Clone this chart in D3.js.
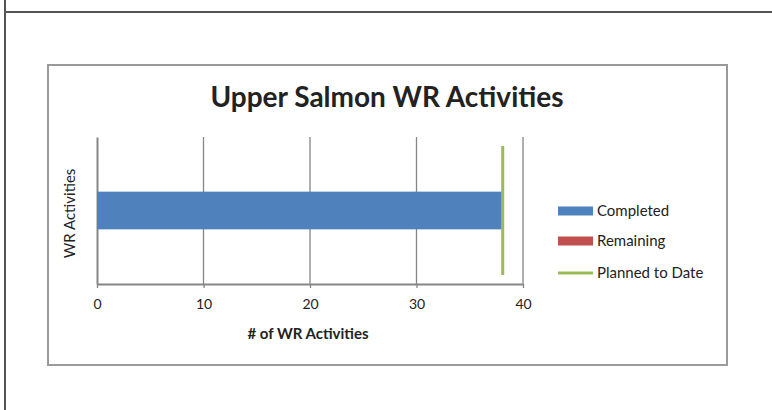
<!DOCTYPE html>
<html>
<head>
<meta charset="utf-8">
<script src="https://cdn.jsdelivr.net/npm/d3@7"></script>
<style>
  body { margin: 0; background: #fff; }
  text { font-family: Lato, "Open Sans", sans-serif; fill: #222; }
</style>
</head>
<body>
<div id="chart"></div>
<script>
// DATA
var categories = ["WR Activities"];
var completed = [38];
var remaining = [0];
var planned = [38];
var xTicks = [0, 10, 20, 30, 40];
var seriesNames = ["Completed", "Remaining", "Planned to Date"];
var seriesColors = ["#4f81bd", "#c0504d", "#9bbb59"];

var W = 772, H = 410;

// plot area inside the chart box
var plot = { left: 97, right: 523, top: 137, bottom: 284 };

var svg = d3.select('#chart').append('svg')
  .attr('width', W)
  .attr('height', H);

// outer frame (page lines)
svg.append('line').attr('x1', 5).attr('x2', 5).attr('y1', 0).attr('y2', H)
  .attr('stroke', '#555').attr('stroke-width', 2);
svg.append('line').attr('x1', 5).attr('x2', W).attr('y1', 12).attr('y2', 12)
  .attr('stroke', '#555').attr('stroke-width', 2);

// chart box
svg.append('rect')
  .attr('x', 48).attr('y', 65).attr('width', 679).attr('height', 300)
  .attr('fill', '#fff').attr('stroke', '#9a9a9a').attr('stroke-width', 2);

// SCALES
var x = d3.scaleLinear()
  .domain([0, 40])
  .range([plot.left, plot.right]);

var yBar = d3.scaleBand()
  .domain(categories)
  .range([plot.top, plot.bottom])
  .paddingInner(0)
  .paddingOuter(1.45);

var yLine = d3.scaleBand()
  .domain(categories)
  .range([plot.top, plot.bottom])
  .paddingOuter(0.07);

// GRIDLINES
svg.append('g').selectAll('line')
  .data(xTicks.slice(1))
  .enter().append('line')
    .attr('x1', function(d) { return x(d); })
    .attr('x2', function(d) { return x(d); })
    .attr('y1', plot.top)
    .attr('y2', plot.bottom)
    .attr('stroke', '#868686')
    .attr('stroke-width', 1.3);

// X AXIS
var xAxis = d3.axisBottom(x)
  .tickValues(xTicks)
  .tickSize(4)
  .tickPadding(11)
  .tickSizeOuter(0);

var gx = svg.append('g')
  .attr('transform', 'translate(0,' + plot.bottom + ')')
  .call(xAxis);
gx.select('.domain').attr('stroke', '#868686').attr('stroke-width', 2);
gx.selectAll('.tick line').attr('stroke', '#868686').attr('stroke-width', 1.3);
gx.selectAll('.tick text')
  .style('font-family', 'Lato, sans-serif')
  .style('font-size', '14px')
  .attr('fill', '#222');

// Y AXIS
var yAxis = d3.axisLeft(yLine.copy().paddingOuter(0))
  .tickSize(0)
  .tickFormat('');
var gy = svg.append('g')
  .attr('transform', 'translate(' + plot.left + ',0)')
  .call(yAxis);
gy.select('.domain').attr('stroke', '#868686').attr('stroke-width', 2);

// BARS
svg.append('g').selectAll('rect.completed')
  .data(categories)
  .enter().append('rect')
    .attr('class', 'completed')
    .attr('x', x(0))
    .attr('y', function(d) { return yBar(d); })
    .attr('width', function(d, i) { return x(completed[i]) - x(0); })
    .attr('height', yBar.bandwidth())
    .attr('fill', seriesColors[0]);

svg.append('g').selectAll('rect.remaining')
  .data(categories)
  .enter().append('rect')
    .attr('class', 'remaining')
    .attr('x', function(d, i) { return x(completed[i]); })
    .attr('y', function(d) { return yBar(d); })
    .attr('width', function(d, i) { return x(remaining[i]) - x(0); })
    .attr('height', yBar.bandwidth())
    .attr('fill', seriesColors[1]);

// planned to date line
svg.append('g').selectAll('line.planned')
  .data(categories)
  .enter().append('line')
    .attr('class', 'planned')
    .attr('x1', function(d, i) { return x(planned[i]) + 1; })
    .attr('x2', function(d, i) { return x(planned[i]) + 1; })
    .attr('y1', function(d) { return yLine(d); })
    .attr('y2', function(d) { return yLine(d) + yLine.bandwidth(); })
    .attr('stroke', seriesColors[2])
    .attr('stroke-width', 3);

// TITLES
svg.append('text')
  .attr('x', 387).attr('y', 107)
  .attr('text-anchor', 'middle')
  .style('font-size', '28px')
  .style('font-weight', 'bold')
  .text('Upper Salmon WR Activities');

svg.append('text')
  .attr('x', 308).attr('y', 339)
  .attr('text-anchor', 'middle')
  .style('font-size', '15px')
  .style('font-weight', 'bold')
  .text('# of WR Activities');

svg.append('text')
  .attr('transform', 'translate(75,' + ((plot.top + plot.bottom) / 2 + 3) + ') rotate(-90)')
  .attr('text-anchor', 'middle')
  .style('font-size', '15px')
  .text(categories[0]);

// LEGEND
var legend = svg.append('g').attr('transform', 'translate(558,0)');
var legendY = [211, 241, 273];

seriesNames.forEach(function(name, i) {
  var g = legend.append('g').attr('transform', 'translate(0,' + legendY[i] + ')');
  if (i < 2) {
    g.append('rect').attr('x', 0).attr('y', -4.5).attr('width', 35).attr('height', 9)
      .attr('fill', seriesColors[i]);
  } else {
    g.append('line').attr('x1', 0).attr('x2', 35).attr('y1', 0).attr('y2', 0)
      .attr('stroke', seriesColors[i]).attr('stroke-width', 3);
  }
  g.append('text')
    .attr('x', 39).attr('y', 0)
    .attr('dy', '0.35em')
    .style('font-size', '15px')
    .text(name);
});
</script>
</body>
</html>
